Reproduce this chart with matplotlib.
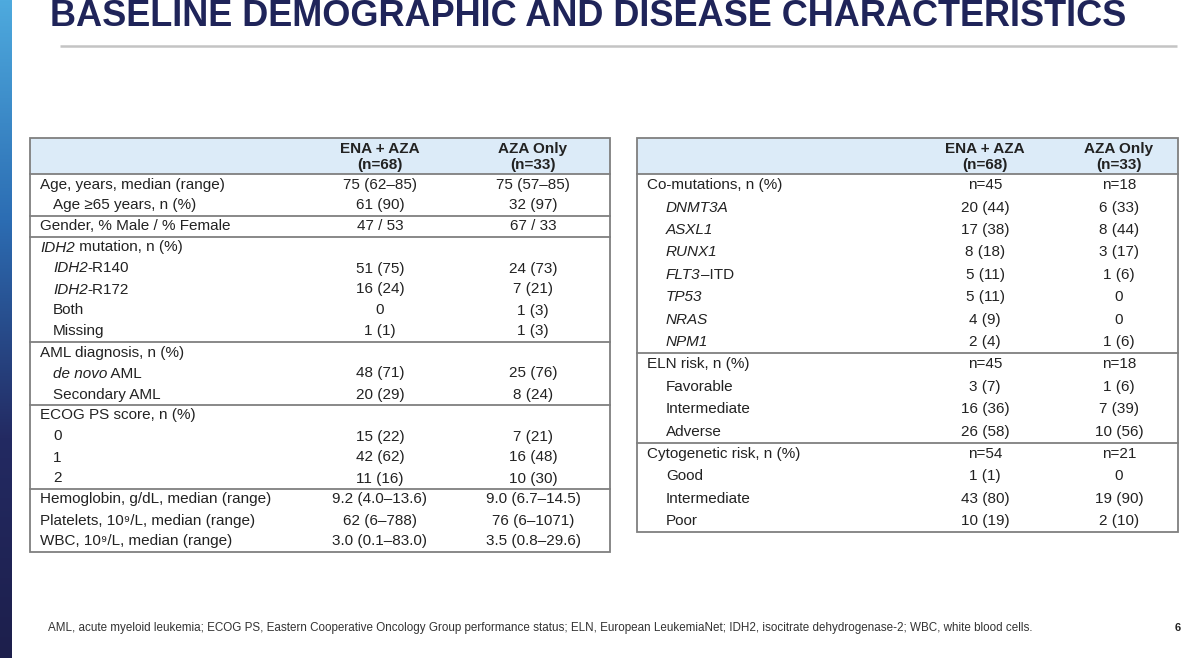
import matplotlib.pyplot as plt
import numpy as np
from matplotlib.colors import LinearSegmentedColormap
from matplotlib.patches import Rectangle

plt.rcParams['font.family'] = ['Liberation Sans', 'DejaVu Sans']

title = 'BASELINE DEMOGRAPHIC AND DISEASE CHARACTERISTICS'
arm_heads = ['ENA + AZA\n(n=68)', 'AZA Only\n(n=33)']

# *...* marks italic text, leading '>' marks an indented row
left_labels = [
    'Age, years, median (range)', '>Age \u226565 years, n (%)',
    'Gender, % Male / % Female',
    '*IDH2* mutation, n (%)', '>*IDH2*-R140', '>*IDH2*-R172', '>Both', '>Missing',
    'AML diagnosis, n (%)', '>*de novo* AML', '>Secondary AML',
    'ECOG PS score, n (%)', '>0', '>1', '>2',
    'Hemoglobin, g/dL, median (range)', 'Platelets, 10\u2079/L, median (range)',
    'WBC, 10\u2079/L, median (range)',
]
left_ena = ['75 (62\u201385)', '61 (90)', '47 / 53', '', '51 (75)', '16 (24)', '0', '1 (1)',
            '', '48 (71)', '20 (29)', '', '15 (22)', '42 (62)', '11 (16)',
            '9.2 (4.0\u201313.6)', '62 (6\u2013788)', '3.0 (0.1\u201383.0)']
left_aza = ['75 (57\u201385)', '32 (97)', '67 / 33', '', '24 (73)', '7 (21)', '1 (3)', '1 (3)',
            '', '25 (76)', '8 (24)', '', '7 (21)', '16 (48)', '10 (30)',
            '9.0 (6.7\u201314.5)', '76 (6\u20131071)', '3.5 (0.8\u201329.6)']
left_breaks = [2, 3, 8, 11, 15]

right_labels = [
    'Co-mutations, n (%)', '>*DNMT3A*', '>*ASXL1*', '>*RUNX1*', '>*FLT3*\u2013ITD', '>*TP53*',
    '>*NRAS*', '>*NPM1*',
    'ELN risk, n (%)', '>Favorable', '>Intermediate', '>Adverse',
    'Cytogenetic risk, n (%)', '>Good', '>Intermediate', '>Poor',
]
right_ena = ['n=45', '20 (44)', '17 (38)', '8 (18)', '5 (11)', '5 (11)', '4 (9)', '2 (4)',
             'n=45', '3 (7)', '16 (36)', '26 (58)', 'n=54', '1 (1)', '43 (80)', '10 (19)']
right_aza = ['n=18', '6 (33)', '8 (44)', '3 (17)', '1 (6)', '0', '0', '1 (6)',
             'n=18', '1 (6)', '7 (39)', '10 (56)', 'n=21', '0', '19 (90)', '2 (10)']
right_breaks = [8, 12]

footnote = ('AML, acute myeloid leukemia; ECOG PS, Eastern Cooperative Oncology Group performance '
            'status; ELN, European LeukemiaNet; IDH2, isocitrate dehydrogenase-2; WBC, white blood cells.')
page_no = '6'

TXT = '#222222'
NAVY = '#1f2459'
HEAD_BG = '#dcebf8'
EDGE = '#7f7f7f'
FS = 11

fig = plt.figure(figsize=(12, 6.58), dpi=100)
ax = fig.add_axes([0, 0, 1, 1])
renderer = fig.canvas.get_renderer()

# side gradient strip
cmap = LinearSegmentedColormap.from_list('strip', ['#4eaade', '#2c6db3', '#232a62', '#1d1f4c'])
ax.imshow(np.linspace(0, 1, 256).reshape(-1, 1), cmap=cmap, aspect='auto',
          extent=(0, 12, 658, 0), zorder=0)
ax.set_xlim(0, 1200)
ax.set_ylim(658, 0)
ax.axis('off')

ax.text(50, 26, title, fontsize=26, fontweight='bold', color=NAVY, va='baseline')
ax.plot([60, 1177], [46, 46], color='#c4c4c4', lw=1.8, solid_capstyle='butt')


def rich(x, y, label):
    parts = label.split('*')
    for i, p in enumerate(parts):
        if not p:
            continue
        t = ax.text(x, y, p, fontsize=FS, color=TXT, va='center',
                    style='italic' if i % 2 else 'normal')
        x += t.get_window_extent(renderer).width


def draw_table(x0, x1, top, head_h, row_h, cols, labels, ena, aza, breaks, indent):
    n = len(labels)
    bottom = top + head_h + n * row_h
    ax.add_patch(Rectangle((x0, top), x1 - x0, head_h, facecolor=HEAD_BG, edgecolor='none', zorder=1))
    ax.add_patch(Rectangle((x0, top), x1 - x0, bottom - top, facecolor='none', edgecolor=EDGE,
                           lw=1.3, zorder=3))
    ax.plot([x0, x1], [top + head_h] * 2, color=EDGE, lw=1.3, zorder=3)
    for b in breaks:
        yb = top + head_h + b * row_h
        ax.plot([x0, x1], [yb, yb], color=EDGE, lw=1.3, zorder=3)
    for cx, h in zip(cols, arm_heads):
        ax.text(cx, top + head_h / 2 + 1, h, fontsize=FS, fontweight='bold', color=TXT,
                ha='center', va='center', linespacing=1.2)
    for i, lab in enumerate(labels):
        y = top + head_h + (i + 0.5) * row_h
        if lab.startswith('>'):
            rich(x0 + 10 + indent, y, lab[1:])
        else:
            rich(x0 + 10, y, lab)
        ax.text(cols[0], y, ena[i], fontsize=FS, color=TXT, ha='center', va='center')
        ax.text(cols[1], y, aza[i], fontsize=FS, color=TXT, ha='center', va='center')


draw_table(30, 610, 138, 36, 21.0, [380, 533], left_labels, left_ena, left_aza, left_breaks, 13)
draw_table(637, 1178, 138, 36, 22.4, [985, 1119], right_labels, right_ena, right_aza,
           right_breaks, 19)

fn = ax.text(48, 628, footnote, fontsize=7.5, color='#333333', va='center')
w = fn.get_window_extent(renderer).width
fn.set_fontsize(7.5 * 974 / w)
ax.text(1181, 628, page_no, fontsize=8, fontweight='bold', color=TXT, ha='right', va='center')

fig.savefig('out.png', dpi=100)
